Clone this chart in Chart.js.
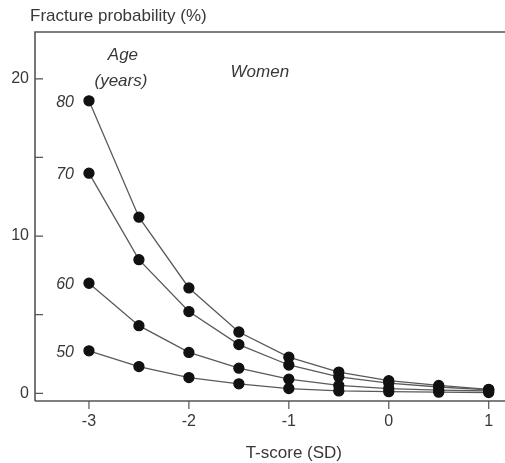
<!DOCTYPE html>
<html>
<head>
<meta charset="utf-8">
<script src="https://cdn.jsdelivr.net/npm/chart.js@4.4.0/dist/chart.umd.min.js"></script>
<style>
  html, body { margin: 0; padding: 0; background: #fff; overflow: hidden; }
  #wrap { width: 505px; height: 463px; position: relative; }
</style>
</head>
<body>
<div id="wrap"><canvas id="fracture_chart" width="505" height="463"></canvas></div>
<script>
// T-score values (SD)
const tScores = [-3, -2.5, -2, -1.5, -1, -0.5, 0, 0.5, 1];
// fracture probability (%) by age group, women
const age50 = [2.7, 1.7, 1.0, 0.6, 0.3, 0.15, 0.1, 0.07, 0.05];
const age60 = [7.0, 4.3, 2.6, 1.6, 0.9, 0.5, 0.3, 0.2, 0.15];
const age70 = [14.0, 8.5, 5.2, 3.1, 1.8, 1.05, 0.65, 0.4, 0.22];
const age80 = [18.6, 11.2, 6.7, 3.9, 2.3, 1.35, 0.8, 0.5, 0.25];
const ageLabels = ['50', '60', '70', '80'];
const xTicks = [-3, -2, -1, 0, 1];
const yTicks = [0, 5, 10, 15, 20];
const yLabelled = [0, 10, 20];

const textColor = '#383838';
const fontFamily = '"Liberation Sans", Arial, sans-serif';

function makeSeries(values) {
    return {
        data: tScores.map((t, i) => ({x: t, y: values[i]})),
        borderColor: '#5a5a5a',
        borderWidth: 1.3,
        backgroundColor: '#111',
        pointBackgroundColor: '#111',
        pointBorderColor: '#111',
        pointRadius: 5,
        tension: 0,
        fill: false
    };
}

const allSeries = [age50, age60, age70, age80];

/* frame, tick marks and free text */
const framePlugin = {
    id: 'frame',
    afterDraw(chart) {
        const c = chart.ctx;
        const a = chart.chartArea;
        const xs = chart.scales.x, ys = chart.scales.y;
        c.save();
        c.strokeStyle = '#555';
        c.lineWidth = 1.6;
        c.beginPath();
        c.moveTo(a.left, a.bottom);
        c.lineTo(a.left, a.top);
        c.lineTo(chart.width, a.top);
        c.moveTo(a.left, a.bottom);
        c.lineTo(chart.width, a.bottom);
        c.stroke();

        c.lineWidth = 1.2;
        c.beginPath();
        yTicks.forEach(v => {
            const py = ys.getPixelForValue(v);
            c.moveTo(a.left, py);
            c.lineTo(a.left + 8, py);
        });
        xTicks.forEach(v => {
            const px = xs.getPixelForValue(v);
            c.moveTo(px, a.bottom);
            c.lineTo(px, a.bottom + 8);
        });
        c.stroke();

        c.fillStyle = textColor;
        c.font = '17px ' + fontFamily;
        c.textAlign = 'left';
        c.textBaseline = 'alphabetic';
        c.fillText('Fracture probability (%)', 30, 21);

        c.textAlign = 'center';
        c.fillText('T-score (SD)', xs.getPixelForValue(-0.95), 458);

        c.font = 'italic 17px ' + fontFamily;
        c.fillText('Age', xs.getPixelForValue(-2.66), 60);
        c.fillText('(years)', xs.getPixelForValue(-2.68), 86);
        c.fillText('Women', xs.getPixelForValue(-1.29), 77);

        c.font = 'italic 16px ' + fontFamily;
        c.textAlign = 'right';
        allSeries.forEach((s, i) => {
            c.fillText(ageLabels[i], xs.getPixelForValue(-3.15), ys.getPixelForValue(s[0]) + 6);
        });
        c.restore();
    }
};

new Chart(document.getElementById('fracture_chart'), {
    type: 'line',
    data: { datasets: allSeries.map(makeSeries) },
    options: {
        responsive: false,
        animation: false,
        layout: { padding: { top: 32, right: 0, left: 0, bottom: 0 } },
        plugins: { legend: { display: false }, tooltip: { enabled: false } },
        scales: {
            x: {
                type: 'linear',
                min: -3.54,
                max: 1.10,
                afterBuildTicks: s => { s.ticks = xTicks.map(v => ({value: v})); },
                afterFit: s => { s.height = 62; },
                grid: { display: false, drawTicks: false },
                border: { display: false },
                ticks: {
                    color: textColor,
                    font: { family: fontFamily, size: 16 },
                    padding: 11,
                    maxRotation: 0
                }
            },
            y: {
                type: 'linear',
                min: -0.49,
                max: 22.98,
                afterBuildTicks: s => { s.ticks = yTicks.map(v => ({value: v})); },
                afterFit: s => { s.width = 35; },
                grid: { display: false, drawTicks: false },
                border: { display: false },
                ticks: {
                    color: textColor,
                    font: { family: fontFamily, size: 16 },
                    padding: 6,
                    callback: v => yLabelled.includes(v) ? String(v) : ''
                }
            }
        }
    },
    plugins: [framePlugin]
});
</script>
</body>
</html>
